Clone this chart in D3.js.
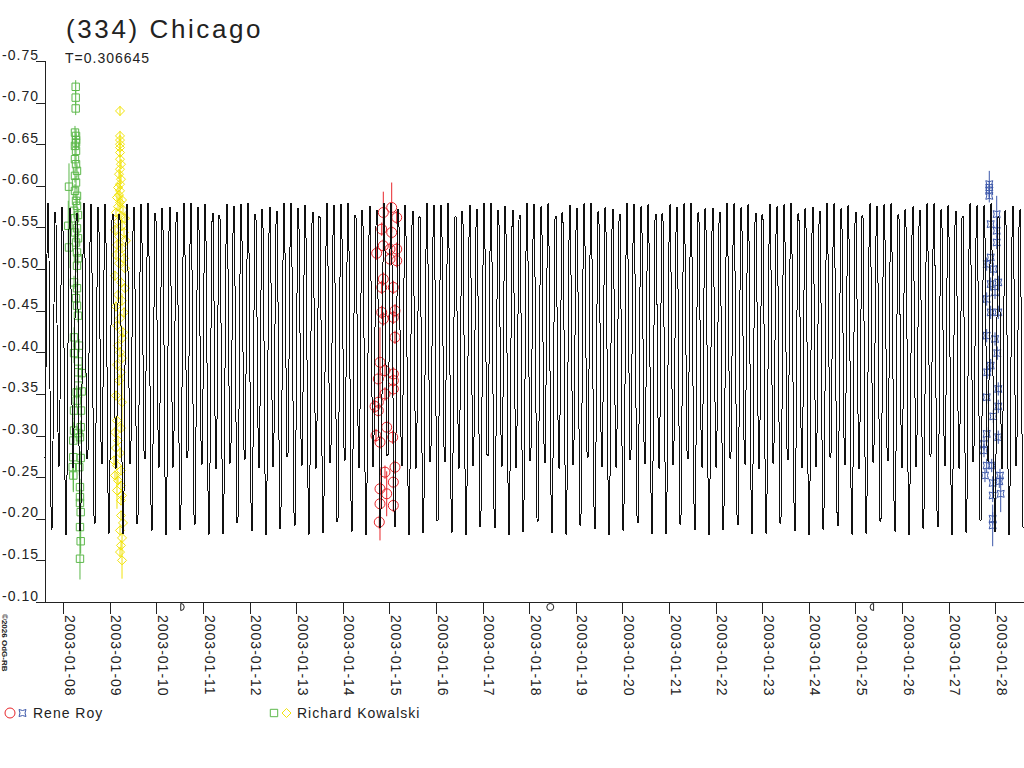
<!DOCTYPE html>
<html>
<head>
<meta charset="utf-8">
<script src="https://cdn.jsdelivr.net/npm/d3@7"></script>
<style>
  body { margin: 0; background: #fff; }
  svg { display: block; font-family: "Liberation Sans", Arial, sans-serif; }
</style>
</head>
<body>
<svg></svg>
<script>
// Light curve data: [days after 2003-01-08 00:00 UT, magnitude, error]
const kowalskiJan08 = [
  [0.266,-0.719,0.008],[0.266,-0.706,0.008],[0.266,-0.693,0.008],[0.251,-0.664,0.008],
  [0.273,-0.660,0.008],[0.273,-0.655,0.008],[0.273,-0.652,0.008],[0.251,-0.648,0.008],
  [0.273,-0.642,0.008],[0.251,-0.632,0.008],[0.273,-0.626,0.008],[0.294,-0.618,0.008],
  [0.251,-0.612,0.008],[0.273,-0.604,0.008],[0.122,-0.599,0.028],[0.251,-0.594,0.008],
  [0.294,-0.588,0.010],[0.273,-0.582,0.008],[0.294,-0.576,0.010],[0.230,-0.570,0.008],
  [0.315,-0.565,0.008],[0.251,-0.561,0.008],[0.107,-0.552,0.030],[0.294,-0.549,0.008],
  [0.251,-0.544,0.008],[0.315,-0.537,0.008],[0.273,-0.532,0.008],[0.122,-0.526,0.025],
  [0.294,-0.520,0.010],[0.315,-0.513,0.008],[0.294,-0.504,0.008],[0.230,-0.484,0.008],
  [0.294,-0.477,0.008],[0.273,-0.465,0.008],[0.294,-0.456,0.008],[0.315,-0.444,0.008],
  [0.230,-0.418,0.012],[0.337,-0.408,0.008],[0.230,-0.399,0.012],[0.322,-0.389,0.008],
  [0.322,-0.376,0.010],[0.395,-0.375,0.008],[0.322,-0.360,0.010],[0.288,-0.352,0.008],
  [0.395,-0.353,0.008],[0.288,-0.342,0.008],[0.230,-0.330,0.010],[0.380,-0.330,0.008],
  [0.373,-0.310,0.008],[0.230,-0.306,0.015],[0.322,-0.303,0.010],[0.215,-0.294,0.020],
  [0.358,-0.298,0.008],[0.215,-0.274,0.042],[0.373,-0.273,0.008],[0.202,-0.262,0.015],
  [0.343,-0.262,0.010],[0.215,-0.252,0.018],[0.358,-0.238,0.010],[0.358,-0.226,0.010],
  [0.358,-0.219,0.012],[0.373,-0.208,0.012],[0.358,-0.190,0.015],[0.373,-0.173,0.015],
  [0.358,-0.152,0.025]
];

const kowalskiJan09 = [
  [1.217,-0.690,0.006],[1.217,-0.660,0.006],[1.217,-0.655,0.006],[1.217,-0.650,0.006],
  [1.217,-0.646,0.006],[1.217,-0.640,0.006],[1.217,-0.632,0.006],[1.238,-0.626,0.006],
  [1.217,-0.620,0.006],[1.195,-0.614,0.006],[1.238,-0.608,0.006],[1.217,-0.602,0.006],
  [1.174,-0.598,0.006],[1.217,-0.594,0.024],[1.195,-0.589,0.006],[1.152,-0.586,0.006],
  [1.260,-0.583,0.006],[1.217,-0.580,0.006],[1.174,-0.575,0.006],[1.281,-0.571,0.006],
  [1.131,-0.568,0.006],[1.238,-0.564,0.006],[1.324,-0.561,0.006],[1.174,-0.557,0.006],
  [1.260,-0.552,0.006],[1.109,-0.547,0.006],[1.303,-0.544,0.006],[1.195,-0.539,0.006],
  [1.345,-0.534,0.006],[1.152,-0.529,0.006],[1.260,-0.525,0.006],[1.131,-0.517,0.006],
  [1.303,-0.513,0.006],[1.195,-0.507,0.006],[1.324,-0.501,0.006],[1.109,-0.492,0.006],
  [1.238,-0.484,0.006],[1.324,-0.477,0.006],[1.174,-0.469,0.006],[1.260,-0.462,0.006],
  [1.131,-0.455,0.006],[1.303,-0.448,0.006],[1.217,-0.441,0.006],[1.152,-0.432,0.006],
  [1.281,-0.424,0.006],[1.260,-0.417,0.006],[1.174,-0.408,0.006],[1.217,-0.400,0.006],
  [1.260,-0.393,0.006],[1.152,-0.385,0.006],[1.238,-0.376,0.006],[1.195,-0.366,0.006],
  [1.131,-0.348,0.006],[1.260,-0.340,0.033],[1.152,-0.318,0.006],[1.238,-0.309,0.006],
  [1.109,-0.304,0.006],[1.174,-0.294,0.006],[1.131,-0.285,0.006],[1.217,-0.279,0.006],
  [1.088,-0.270,0.006],[1.152,-0.264,0.006],[1.238,-0.258,0.006],[1.109,-0.252,0.006],
  [1.174,-0.246,0.006],[1.238,-0.240,0.006],[1.152,-0.234,0.022],[1.260,-0.228,0.006],
  [1.238,-0.222,0.006],[1.238,-0.204,0.006],[1.281,-0.195,0.006],[1.217,-0.186,0.006],
  [1.260,-0.177,0.006],[1.238,-0.168,0.006],[1.217,-0.160,0.006],[1.260,-0.150,0.022]
];

const royJan15 = [
  [6.867,-0.568,0.025],[7.047,-0.574,0.030],[7.155,-0.562,0.008],[6.833,-0.548,0.008],
  [7.047,-0.544,0.008],[6.867,-0.528,0.008],[6.725,-0.519,0.008],[7.011,-0.524,0.008],
  [7.155,-0.524,0.008],[7.011,-0.512,0.008],[7.155,-0.510,0.008],[6.867,-0.488,0.008],
  [6.833,-0.478,0.008],[7.082,-0.478,0.008],[6.833,-0.448,0.008],[7.118,-0.450,0.008],
  [6.867,-0.440,0.008],[7.082,-0.442,0.008],[7.118,-0.418,0.008],[6.796,-0.388,0.042],
  [6.903,-0.378,0.008],[6.760,-0.368,0.008],[7.082,-0.374,0.008],[7.082,-0.366,0.008],
  [7.082,-0.356,0.008],[6.903,-0.350,0.008],[6.690,-0.335,0.008],[6.760,-0.340,0.008],
  [6.760,-0.330,0.008],[6.940,-0.310,0.008],[6.710,-0.300,0.008],[7.069,-0.298,0.008],
  [6.796,-0.292,0.008],[7.118,-0.262,0.008],[6.903,-0.256,0.008],[7.082,-0.244,0.008],
  [6.796,-0.236,0.008],[6.940,-0.230,0.027],[6.796,-0.218,0.044],[7.082,-0.216,0.008],
  [6.781,-0.196,0.008]
];

const royJan28 = [
  [19.871,-0.602,0.016],[19.871,-0.598,0.008],[19.871,-0.594,0.008],[19.871,-0.588,0.008],
  [20.030,-0.566,0.022],[19.901,-0.554,0.008],[20.030,-0.546,0.008],[20.030,-0.532,0.008],
  [19.901,-0.514,0.008],[19.815,-0.506,0.008],[19.957,-0.500,0.008],[19.901,-0.482,0.008],
  [20.064,-0.484,0.008],[19.994,-0.472,0.008],[19.815,-0.464,0.008],[19.901,-0.448,0.008],
  [20.064,-0.448,0.008],[19.815,-0.420,0.008],[19.994,-0.416,0.008],[20.043,-0.399,0.008],
  [19.901,-0.384,0.008],[19.828,-0.376,0.008],[20.064,-0.356,0.008],[19.815,-0.346,0.008],
  [20.064,-0.335,0.008],[19.957,-0.323,0.008],[19.815,-0.302,0.008],[20.064,-0.298,0.008],
  [19.757,-0.290,0.008],[19.757,-0.282,0.008],[19.815,-0.264,0.008],[19.923,-0.264,0.008],
  [19.778,-0.252,0.008],[20.101,-0.252,0.008],[19.944,-0.243,0.008],[20.086,-0.245,0.008],
  [20.116,-0.230,0.022],[19.944,-0.228,0.008],[19.944,-0.200,0.008],[19.944,-0.192,0.025]
];

// Model: period (days), epoch of deep minimum, Fourier terms
const period = 0.306645;
const epoch = -0.249;
const meanMag = -0.3994;
const ampHalf = 0.1794;   // cos(4*pi*phase)
const ampFull = 0.04;     // cos(2*pi*phase)

const yTicks = [-0.75,-0.70,-0.65,-0.60,-0.55,-0.50,-0.45,-0.40,-0.35,-0.30,-0.25,-0.20,-0.15,-0.10];
const moonPhases = [
  { date: "2003-01-10T13:15:00Z", phase: "first" },
  { date: "2003-01-18T10:48:00Z", phase: "full" },
  { date: "2003-01-25T08:33:00Z", phase: "last" }
];

const svg = d3.select("svg").attr("width", 1024).attr("height", 768);

const day0 = Date.UTC(2003, 0, 8);
const toDate = t => new Date(day0 + t * 86400000);

const x = d3.scaleUtc()
  .domain([new Date("2003-01-07T14:34:30Z"), new Date("2003-01-28T14:47:00Z")])
  .range([45, 1024]);
const y = d3.scaleLinear().domain([-0.75, -0.10]).range([61, 602]);

const ink = "#222";

// title
svg.append("text").attr("x", 66).attr("y", 38)
  .attr("font-size", 26).attr("letter-spacing", 2.6).attr("fill", ink)
  .text("(334) Chicago");
svg.append("text").attr("x", 65).attr("y", 63)
  .attr("font-size", 14).attr("letter-spacing", 1).attr("fill", ink)
  .text("T=0.306645");

// y axis
const yAxis = svg.append("g").attr("transform", "translate(45,0)")
  .call(d3.axisLeft(y).tickValues(yTicks).tickFormat(d => d.toFixed(2)).tickSize(9));
yAxis.select(".domain").remove();
yAxis.selectAll("line").attr("stroke", ink).attr("shape-rendering", "crispEdges");
yAxis.selectAll("text").attr("x", -6).attr("y", -2).attr("dy", 0)
  .attr("font-size", 14).attr("letter-spacing", 1).attr("fill", ink)
  .attr("font-family", null);
svg.append("line").attr("x1", 45).attr("x2", 45).attr("y1", y(-0.75)).attr("y2", y(-0.10))
  .attr("stroke", ink).attr("shape-rendering", "crispEdges");

// x axis
const xAxis = svg.append("g").attr("transform", `translate(0,${y(-0.10)})`)
  .call(d3.axisBottom(x).ticks(d3.utcDay.every(1)).tickFormat(d3.utcFormat("%Y-%m-%d")).tickSize(12));
xAxis.select(".domain").remove();
xAxis.selectAll("line").attr("stroke", ink).attr("shape-rendering", "crispEdges");
xAxis.selectAll("text")
  .attr("transform", "rotate(90)")
  .attr("x", 13).attr("y", -1).attr("dy", 0)
  .attr("text-anchor", "start")
  .attr("font-size", 14).attr("letter-spacing", 1).attr("fill", ink)
  .attr("font-family", null);
svg.append("line").attr("x1", 36).attr("x2", 1024).attr("y1", y(-0.10)).attr("y2", y(-0.10))
  .attr("stroke", ink).attr("shape-rendering", "crispEdges");

// moon phase marks
moonPhases.forEach(m => {
  const cx = x(new Date(m.date)), cy = 607, r = 3.5;
  let d;
  if (m.phase === "full") d = `M${cx - r},${cy} a${r},${r} 0 1,0 ${2 * r},0 a${r},${r} 0 1,0 ${-2 * r},0`;
  else if (m.phase === "first") d = `M${cx - 1.5},${cy - r} a${r},${r} 0 0,1 0,${2 * r} Z`;
  else d = `M${cx + 1.5},${cy - r} a${r},${r} 0 0,0 0,${2 * r} Z`;
  svg.append("path").attr("d", d).attr("fill", "none").attr("stroke", ink).attr("stroke-width", 1);
});

// markers
const markerPath = {
  circle: d3.symbol(d3.symbolCircle, Math.PI * 5 * 5)(),
  square: "M-3.7,-3.7H3.7V3.7H-3.7Z",
  diamond: "M0,-4.5L4.5,0L0,4.5L-4.5,0Z",
  star: "M-3.5,-3.5Q0,-1.5 3.5,-3.5Q1.5,0 3.5,3.5Q0,1.5 -3.5,3.5Q-1.5,0 -3.5,-3.5Z"
};

const series = [
  { data: kowalskiJan08, color: "#5cb84a", shape: "square" },
  { data: kowalskiJan09, color: "#f2e40c", shape: "diamond" },
  { data: royJan15, color: "#e8252a", shape: "circle" },
  { data: royJan28, color: "#3d58aa", shape: "star" }
];

series.forEach(s => {
  const g = svg.append("g");
  g.selectAll("line").data(s.data).join("line")
    .attr("x1", d => x(toDate(d[0]))).attr("x2", d => x(toDate(d[0])))
    .attr("y1", d => y(d[1] - d[2])).attr("y2", d => y(d[1] + d[2]))
    .attr("stroke", s.color).attr("stroke-width", 1);
  g.selectAll("path").data(s.data).join("path")
    .attr("d", markerPath[s.shape])
    .attr("transform", d => `translate(${x(toDate(d[0]))},${y(d[1])})`)
    .attr("fill", "none").attr("stroke", s.color).attr("stroke-width", 1);
});

// model curve sampled across the plot
const model = t => {
  const ph = (t - epoch) / period;
  return meanMag + ampHalf * Math.cos(4 * Math.PI * ph) + ampFull * Math.cos(2 * Math.PI * ph);
};
const tStart = (x.domain()[0] - day0) / 86400000;
const tEnd = (x.domain()[1] - day0) / 86400000;
const samples = d3.range(tStart, tEnd, 0.02146).map(t => [t, model(t)]);
svg.append("path")
  .attr("d", d3.line().x(d => x(toDate(d[0]))).y(d => y(d[1]))(samples))
  .attr("fill", "none").attr("stroke", "#111").attr("stroke-width", 1)
  .attr("shape-rendering", "crispEdges");

// legend
const legend = [
  { name: "Rene Roy", shapes: ["circle", "star"], colors: ["#e8252a", "#3d58aa"], x: 10 },
  { name: "Richard Kowalski", shapes: ["square", "diamond"], colors: ["#5cb84a", "#f2e40c"], x: 274 }
];
legend.forEach(l => {
  l.shapes.forEach((sh, i) => {
    svg.append("path").attr("d", markerPath[sh])
      .attr("transform", `translate(${l.x + i * 12.5},713)`)
      .attr("fill", "none").attr("stroke", l.colors[i]).attr("stroke-width", 1);
  });
  svg.append("text").attr("x", l.x + 23).attr("y", 718)
    .attr("font-size", 14).attr("letter-spacing", 1).attr("fill", ink)
    .text(l.name);
});

// copyright
svg.append("text").attr("transform", "translate(2,614) rotate(90)")
  .attr("font-size", 8).attr("font-weight", "bold").attr("fill", ink)
  .text("©2026 OdG-RB");
</script>
</body>
</html>
